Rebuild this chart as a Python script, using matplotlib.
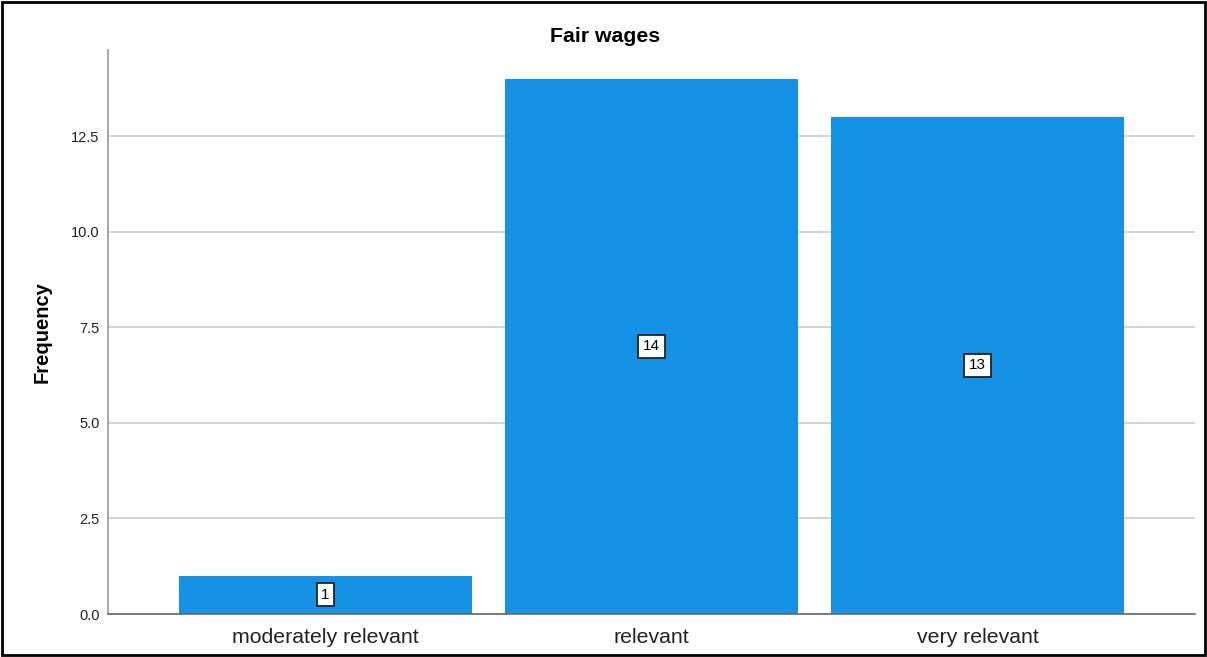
import matplotlib.pyplot as plt
from matplotlib.patches import Rectangle

plt.rcParams['font.family'] = ['Liberation Sans', 'DejaVu Sans']

# Data
categories = ["moderately relevant", "relevant", "very relevant"]
counts = [1, 14, 13]
yticks = [0.0, 2.5, 5.0, 7.5, 10.0, 12.5]

bar_color = '#1591e6'

fig = plt.figure(figsize=(12.07, 6.57), dpi=100)
# axes placed in pixel terms: left 108, right 1195, top 50, bottom 614
W, H = 1207, 657
ax = fig.add_axes([108 / W, (H - 614) / H, (1195 - 108) / W, (614 - 50) / H])

x = list(range(len(categories)))
ax.bar(x, counts, width=0.9, color=bar_color, zorder=2)

# value labels in the middle of each bar
for xi, c in zip(x, counts):
    ax.text(xi, c / 2, str(c), ha='center', va='center', fontsize=11, zorder=3,
            bbox=dict(boxstyle='square,pad=0.3', facecolor='white', edgecolor='#222222', linewidth=1.3))

ax.set_xlim(-0.667, 2.667)
ax.set_ylim(0, 14.75)
ax.set_yticks(yticks)
ax.set_yticklabels([f"{t:.1f}" for t in yticks], fontsize=10.5, color='#222222')
ax.set_xticks(x)
ax.set_xticklabels(categories, fontsize=15.3, color='#222222')
ax.tick_params(axis='both', length=0)
ax.tick_params(axis='x', pad=10)
ax.tick_params(axis='y', pad=6)

ax.grid(axis='y', color='#cccccc', linewidth=1.2, zorder=0)
ax.set_axisbelow(True)

for side in ['top', 'right']:
    ax.spines[side].set_visible(False)
ax.spines['left'].set_color('#9a9a9a')
ax.spines['left'].set_linewidth(1.2)
ax.spines['bottom'].set_color('#666666')
ax.spines['bottom'].set_linewidth(1.2)

ax.set_ylabel("Frequency", fontsize=14.5, fontweight='bold', labelpad=14)
fig.text(605 / W, 1 - 36 / H, "Fair wages", ha='center', va='center', fontsize=15.3, fontweight='bold')

# outer frame
fig.patches.append(Rectangle((0.002, 0.003), 0.996, 0.994, transform=fig.transFigure,
                             fill=False, edgecolor='black', linewidth=2))

plt.savefig("out.png", dpi=100)
